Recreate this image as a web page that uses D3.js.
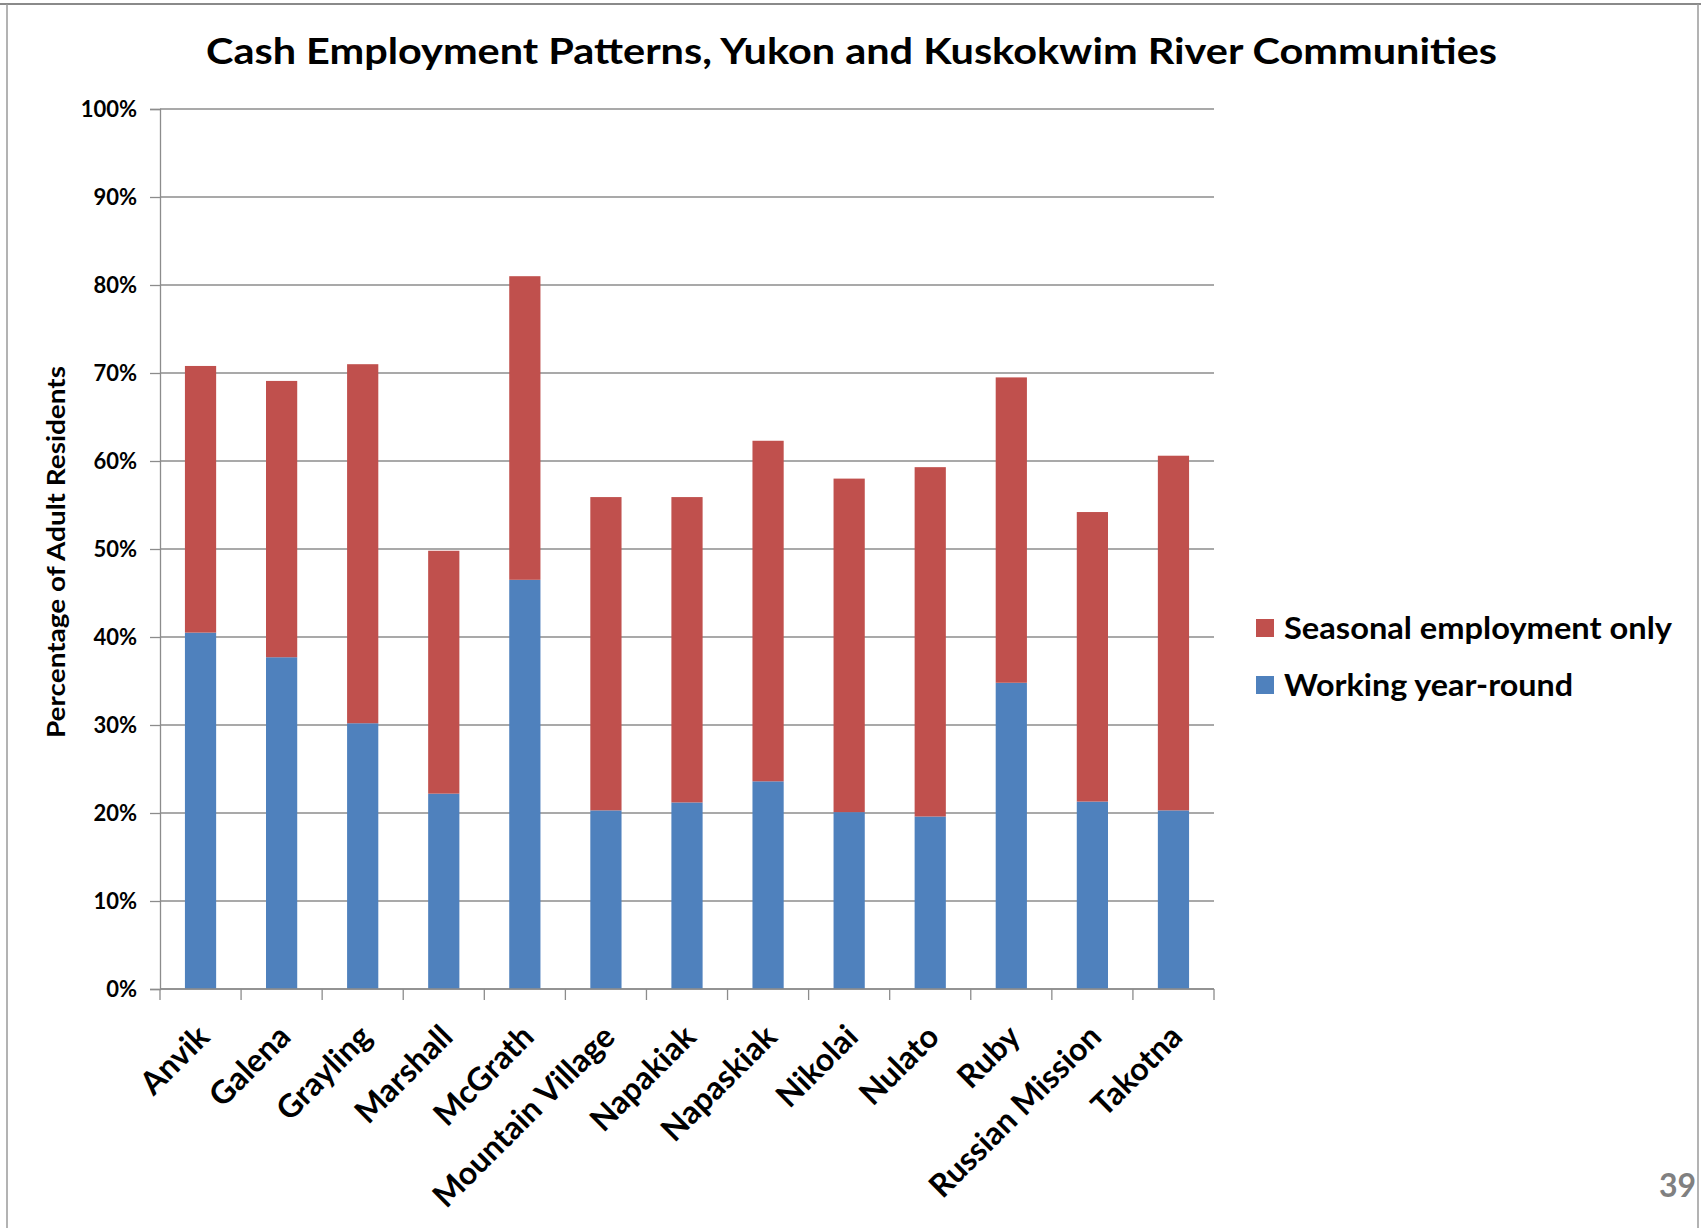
<!DOCTYPE html>
<html>
  <head>
    <title>Cash Employment Patterns</title>
    <script src="https://d3js.org/d3.v7.min.js"></script>
    <style>
      body { margin: 0; background: #fff; }
      text { font-family: Lato, "Open Sans", sans-serif; font-weight: bold; fill: #000; }
    </style>
  </head>
  <body>
    <div id="chart"></div>
    <script>
      // Data (fractions of adult residents)
      var communities = ["Anvik", "Galena", "Grayling", "Marshall", "McGrath", "Mountain Village",
        "Napakiak", "Napaskiak", "Nikolai", "Nulato", "Ruby", "Russian Mission", "Takotna"];
      var yearRound = [0.405, 0.377, 0.302, 0.222, 0.465, 0.203, 0.212, 0.236, 0.201, 0.196, 0.348, 0.213, 0.203];
      var totalEmployed = [0.708, 0.691, 0.710, 0.498, 0.810, 0.559, 0.559, 0.623, 0.580, 0.593, 0.695, 0.542, 0.606];
      var seriesNames = ["Working year-round", "Seasonal employment only"];
      var seriesColors = ["#4F81BD", "#C0504D"];
      var yTicks = [0, 0.1, 0.2, 0.3, 0.4, 0.5, 0.6, 0.7, 0.8, 0.9, 1.0];

      var rows = communities.map(function(c, i) {
        return { name: c, year: yearRound[i], seasonal: totalEmployed[i] - yearRound[i] };
      });

      var W = 1701, H = 1228;
      var plotLeft = 160, plotRight = 1214, plotTop = 109, plotBottom = 989;

      var svg = d3.select("#chart").append("svg")
        .attr("width", W)
        .attr("height", H);

      svg.append("rect").attr("width", W).attr("height", H).attr("fill", "#fff");

      // slide frame
      svg.append("line").attr("x1", 0).attr("x2", W).attr("y1", 4).attr("y2", 4)
        .attr("stroke", "#8a8a8a").attr("stroke-width", 2);
      svg.append("line").attr("x1", 7).attr("x2", 7).attr("y1", 4).attr("y2", H)
        .attr("stroke", "#9a9a9a").attr("stroke-width", 1.5);
      svg.append("line").attr("x1", 1698).attr("x2", 1698).attr("y1", 4).attr("y2", H)
        .attr("stroke", "#9a9a9a").attr("stroke-width", 1.5);

      var x = d3.scaleBand()
        .domain(communities)
        .range([plotLeft, plotRight])
        .paddingInner(0.615)
        .paddingOuter(0.3075);

      var y = d3.scaleLinear()
        .domain([0, 1])
        .range([plotBottom, plotTop]);

      // gridlines
      svg.append("g")
        .selectAll("line")
        .data(yTicks)
        .enter()
        .append("line")
        .attr("x1", plotLeft)
        .attr("x2", plotRight)
        .attr("y1", function(d) { return y(d); })
        .attr("y2", function(d) { return y(d); })
        .attr("stroke", "#8c8c8c")
        .attr("stroke-width", 1.3);

      // y axis
      var yAxis = svg.append("g")
        .attr("transform", "translate(" + plotLeft + ",0)")
        .call(d3.axisLeft(y).tickValues(yTicks).tickFormat(d3.format(".0%")).tickSize(10).tickPadding(13));
      yAxis.select(".domain").attr("stroke", "#8c8c8c").attr("stroke-width", 1.3);
      yAxis.selectAll(".tick line").attr("stroke", "#8c8c8c").attr("stroke-width", 1.3);
      yAxis.selectAll(".tick text")
        .style("font-family", "Lato, sans-serif")
        .style("font-weight", "bold")
        .style("font-size", "22px")
        .attr("fill", "#000");

      // stacked bars
      var stack = d3.stack().keys(["year", "seasonal"]);
      var layers = stack(rows);

      svg.append("g")
        .selectAll("g")
        .data(layers)
        .enter()
        .append("g")
        .attr("fill", function(d, i) { return seriesColors[i]; })
        .selectAll("rect")
        .data(function(d) { return d; })
        .enter()
        .append("rect")
        .attr("x", function(d) { return x(d.data.name); })
        .attr("y", function(d) { return y(d[1]); })
        .attr("width", x.bandwidth())
        .attr("height", function(d) { return y(d[0]) - y(d[1]); });

      // x axis line and category ticks (between categories)
      svg.append("line")
        .attr("x1", plotLeft).attr("x2", plotRight)
        .attr("y1", plotBottom).attr("y2", plotBottom)
        .attr("stroke", "#8c8c8c").attr("stroke-width", 1.3);

      var half = (x.step() - x.bandwidth()) / 2;
      var bounds = communities.map(function(c) { return x(c) - half; });
      bounds.push(x(communities[communities.length - 1]) + x.bandwidth() + half);
      svg.append("g")
        .selectAll("line")
        .data(bounds)
        .enter()
        .append("line")
        .attr("x1", function(d) { return d; })
        .attr("x2", function(d) { return d; })
        .attr("y1", plotBottom)
        .attr("y2", plotBottom + 11)
        .attr("stroke", "#8c8c8c")
        .attr("stroke-width", 1.3);

      // rotated category labels
      svg.append("g")
        .selectAll("text")
        .data(communities)
        .enter()
        .append("text")
        .attr("transform", function(d) {
          return "translate(" + (x(d) + x.bandwidth() / 2 - 5) + "," + (plotBottom + 34) + ") rotate(-45)";
        })
        .attr("text-anchor", "end")
        .attr("dy", "0.7em")
        .style("font-size", "32px")
        .text(function(d) { return d; });

      // y axis title
      svg.append("text")
        .attr("transform", "translate(56," + ((plotTop + plotBottom) / 2 + 3) + ") rotate(-90)")
        .attr("text-anchor", "middle")
        .attr("dy", "0.35em")
        .attr("textLength", 372)
        .attr("lengthAdjust", "spacingAndGlyphs")
        .style("font-size", "25px")
        .text("Percentage of Adult Residents");

      // chart title
      svg.append("text")
        .attr("x", 206)
        .attr("y", 64)
        .attr("textLength", 1291)
        .attr("lengthAdjust", "spacingAndGlyphs")
        .style("font-size", "37px")
        .text("Cash Employment Patterns, Yukon and Kuskokwim River Communities");

      // legend (seasonal on top)
      var legendItems = [
        { name: seriesNames[1], color: seriesColors[1], cy: 628, len: 388 },
        { name: seriesNames[0], color: seriesColors[0], cy: 685, len: 289 }
      ];
      var legend = svg.append("g")
        .selectAll("g")
        .data(legendItems)
        .enter()
        .append("g")
        .attr("transform", function(d) { return "translate(1256," + d.cy + ")"; });
      legend.append("rect")
        .attr("x", 0).attr("y", -9)
        .attr("width", 18).attr("height", 18)
        .attr("fill", function(d) { return d.color; });
      legend.append("text")
        .attr("x", 28)
        .attr("dy", "0.36em")
        .attr("textLength", function(d) { return d.len; })
        .attr("lengthAdjust", "spacingAndGlyphs")
        .style("font-size", "30px")
        .text(function(d) { return d.name; });

      // slide number
      svg.append("text")
        .attr("x", 1696)
        .attr("y", 1197)
        .attr("text-anchor", "end")
        .style("font-size", "32px")
        .style("fill", "#808080")
        .text("39");
    </script>
  </body>
</html>
